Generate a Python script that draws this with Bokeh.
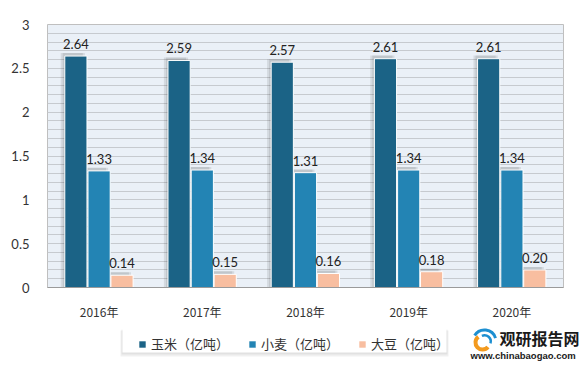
from bokeh.plotting import figure
from bokeh.layouts import column, row
from bokeh.models import (ColumnDataSource, FactorRange, LabelSet, Legend, LegendItem,
                          SingleIntervalTicker, Label)
from bokeh.core.properties import value
from bokeh.transform import dodge
from bokeh.embed import file_html
from bokeh.resources import INLINE

years = ["2016年", "2017年", "2018年", "2019年", "2020年"]
corn = [2.64, 2.59, 2.57, 2.61, 2.61]
wheat = [1.33, 1.34, 1.31, 1.34, 1.34]
soy = [0.14, 0.15, 0.16, 0.18, 0.20]
series_names = ["玉米（亿吨）", "小麦（亿吨）", "大豆（亿吨）"]
colors = ["#1B6386", "#2384B4", "#F8BEA0"]

src = ColumnDataSource(dict(
    year=years, corn=corn, wheat=wheat, soy=soy,
    corn_t=["%.2f" % v for v in corn],
    wheat_t=["%.2f" % v for v in wheat],
    soy_t=["%.2f" % v for v in soy],
    corn_s=[v + 0.035 for v in corn],
    wheat_s=[v + 0.035 for v in wheat],
    soy_s=[v + 0.035 for v in soy],
))

p = figure(width=580, height=322, x_range=FactorRange(*years), y_range=(0, 3),
           output_backend="svg", toolbar_location=None,
           min_border_left=47, min_border_right=17, min_border_top=24, min_border_bottom=28)
p.background_fill_color = "#EAF0F7"
p.border_fill_color = "white"
p.outline_line_color = "#BFBFBF"

p.yaxis.ticker = SingleIntervalTicker(interval=0.5, num_minor_ticks=5)
p.ygrid.grid_line_color = "#C6CACF"
p.ygrid.minor_grid_line_color = "#C6CACF"
p.xgrid.grid_line_color = None
p.yaxis.axis_line_color = None
p.yaxis.major_tick_line_color = None
p.yaxis.minor_tick_line_color = None
p.yaxis.major_label_standoff = 12
p.xaxis.axis_line_color = "#9A9A9A"
p.xaxis.major_tick_line_color = None
p.xaxis.minor_tick_line_color = None
p.xaxis.major_label_standoff = 9
for ax in (p.xaxis[0], p.yaxis[0]):
    ax.major_label_text_font = "Noto Sans CJK SC"
    ax.major_label_text_font_size = "12px"
    ax.major_label_text_color = "#333333"
p.yaxis.major_label_text_font = "Lato"
p.yaxis.major_label_text_font_size = "13px"

offsets = [-0.225, 0.0, 0.222]
keys = ["corn", "wheat", "soy"]
for k, off in zip(keys, offsets):
    p.vbar(x=dodge("year", off - 0.04, range=p.x_range), top=k + "_s", width=0.215,
           source=src, fill_color="black", fill_alpha=0.09, line_color=None)
    p.vbar(x=dodge("year", off - 0.02, range=p.x_range), top=k + "_s", width=0.215,
           source=src, fill_color="black", fill_alpha=0.09, line_color=None)
for k, off, c in zip(keys, offsets, colors):
    p.vbar(x=dodge("year", off, range=p.x_range), top=k, width=0.215, source=src,
           fill_color=c, line_color="white", line_width=1)
    p.add_layout(LabelSet(x=dodge("year", off, range=p.x_range), y=k, text=k + "_t",
                          source=src, text_align="center", text_baseline="bottom",
                          y_offset=7, text_font=value("Lato"), text_font_size=value("13px"),
                          text_color="#222222"))

# bottom strip: legend + watermark
q = figure(width=580, height=41, x_range=(0, 580), y_range=(0, 41),
           output_backend="svg", toolbar_location=None,
           min_border=0, min_border_left=0, min_border_right=0, min_border_top=0,
           min_border_bottom=0)
q.axis.visible = False
q.grid.visible = False
q.outline_line_color = None
q.background_fill_color = "white"
q.border_fill_color = "white"
q.quad(left=[120], right=[448], top=[33], bottom=[7], fill_color="black", fill_alpha=0.06, line_color=None)
q.quad(left=[121], right=[447], top=[34], bottom=[9], fill_color="black", fill_alpha=0.06, line_color=None)
q.quad(left=[122], right=[446], top=[35], bottom=[11], fill_color="white", line_color=None)

leg_src = ColumnDataSource(dict(x=[-100], top=[-100]))
leg_rs = [q.vbar(x="x", top="top", width=1, source=leg_src, fill_color=c, line_color=None)
          for c in colors]
legend = Legend(items=[LegendItem(label=n, renderers=[r]) for n, r in zip(series_names, leg_rs)],
                orientation="horizontal", location=(138, 10),
                glyph_width=8, glyph_height=8, label_standoff=5, spacing=19,
                label_text_font="Noto Sans CJK SC", label_text_font_size="13px",
                label_text_color="#333333", background_fill_alpha=0,
                border_line_color=None, padding=4, margin=0)
q.add_layout(legend, "center")

# logo approximation
q.annular_wedge(x=[482], y=[21], inner_radius=5, outer_radius=9, start_angle=2.2, end_angle=5.6,
                fill_color="#F39A1E", line_color=None)
q.annular_wedge(x=[484], y=[22], inner_radius=10, outer_radius=13, start_angle=0.3, end_angle=2.6,
                fill_color="#1D8FD1", line_color=None)
q.annular_wedge(x=[484], y=[22], inner_radius=5, outer_radius=7.5, start_angle=-0.3, end_angle=2.0,
                fill_color="#1D8FD1", line_color=None)

q.add_layout(Label(x=499, y=14, x_units="screen", y_units="screen", text="观研报告网",
                   text_font="Noto Sans CJK SC", text_font_style="bold", text_font_size="16px",
                   text_color="#1a1a1a"))
q.add_layout(Label(x=470, y=3, x_units="screen", y_units="screen", text="www.chinabaogao.com",
                   text_font="Liberation Sans", text_font_style="bold", text_font_size="9.5px",
                   text_color="#1a1a1a"))

layout = column(p, row(q), spacing=0)
open("out.html", "w").write(file_html(layout, INLINE))
